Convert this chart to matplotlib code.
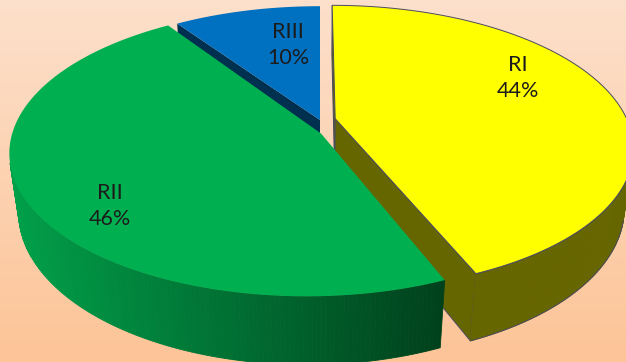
import numpy as np
import matplotlib.pyplot as plt
from matplotlib.patches import Polygon
from matplotlib.colors import to_rgb

labels = ['RI', 'RII', 'RIII']
shares = [44, 46, 10]
top_colors = ['#ffff00', '#00b050', '#0070c0']
side_light = ['#666600', '#00a04a', '#003050']
side_dark = ['#666600', '#00401c', '#003050']
edge_colors = ['#4a4a60', 'none', 'none']
explode = [0.053, 0.04, 0.0]
# extra shift of each slice's tip (world units), excel draws the tips a bit low
tip_shift = [(0.0, -0.037), (0.0385, -0.114), (0.0, -0.037)]
label_xy = [(518, 78), (110, 206), (288, 45)]

# camera looking down on the disc (perspective)
tilt = np.radians(27.7)
dist = 3.72
focal = 1078.0
depth = 0.23
cx, cy = 320, 115
W, H = 626, 362


def proj(xw, yw, z):
    xw = np.atleast_1d(xw).astype(float)
    yw = np.atleast_1d(yw).astype(float)
    z = np.broadcast_to(z, xw.shape)
    d = dist + yw * np.cos(tilt) - z * np.sin(tilt)
    X = cx + focal * xw / d
    Y = cy - focal * (yw * np.sin(tilt) + z * np.cos(tilt)) / d
    return np.column_stack([X, Y])


def lerp_color(c1, c2, t):
    a, b = np.array(to_rgb(c1)), np.array(to_rgb(c2))
    return tuple(a + (b - a) * np.clip(t, 0, 1))


fig = plt.figure(figsize=(W / 100, H / 100), dpi=100)
ax = fig.add_axes([0, 0, 1, 1])
ax.set_xlim(0, W)
ax.set_ylim(H, 0)
ax.axis('off')

# background gradient
grad = np.linspace(0, 1, 256)
bg = np.array([lerp_color('#fde0cb', '#fcc497', g) for g in grad])[:, None, :]
ax.imshow(bg, extent=[0, W, H, 0], aspect='auto', zorder=0)

fracs = np.array(shares) / np.sum(shares)
ends = np.cumsum(fracs) * 2 * np.pi
starts = ends - fracs * 2 * np.pi
mids = (starts + ends) / 2
cam_y = -dist * np.cos(tilt)

order = np.argsort(-np.cos(mids))  # far slices first
zo = 1
for i in order:
    t0, t1 = starts[i], ends[i]
    ox, oy = explode[i] * np.sin(mids[i]), explode[i] * np.cos(mids[i])
    px, py = ox + tip_shift[i][0], oy + tip_shift[i][1]
    ec = edge_colors[i]
    lw = 0.7 if ec != 'none' else 0

    # cut faces
    for t, sgn in ((t0, -1), (t1, 1)):
        n = np.array([sgn * np.cos(t), -sgn * np.sin(t)])
        if n[0] * (-ox) + n[1] * (cam_y - oy) > 0:
            xs = [px, ox + np.sin(t), ox + np.sin(t), px]
            ys = [py, oy + np.cos(t), oy + np.cos(t), py]
            zs = np.array([0, 0, -depth, -depth])
            pts = proj(xs, ys, zs)
            ax.add_patch(Polygon(pts, closed=True, fc=side_dark[i], ec=ec, lw=lw, zorder=zo))
            zo += 1

    # outer side, strip by strip
    th = np.linspace(t0, t1, 240)
    vis = -1 - np.sin(th) * ox - np.cos(th) * (-cam_y + oy) > 0
    for a, b, v in zip(th[:-1], th[1:], vis[:-1]):
        if not v:
            continue
        xs = ox + np.sin([a, b, b, a])
        ys = oy + np.cos([a, b, b, a])
        pts = proj(xs, ys, np.array([0, 0, -depth, -depth]))
        tc = (pts[:, 0].mean() - 12) / (445 - 12)
        col = lerp_color(side_light[i], side_dark[i], tc)
        ax.add_patch(Polygon(pts, closed=True, fc=col, ec=col, lw=0.6, zorder=zo))
    if ec != 'none' and vis.any():
        tv = th[vis]
        for z in (0, -depth):
            p = proj(ox + np.sin(tv), oy + np.cos(tv), z)
            ax.plot(p[:, 0], p[:, 1], color=ec, lw=lw, zorder=zo + 0.5)
    zo += 1

    # top face
    xs = np.concatenate([[px], ox + np.sin(th)])
    ys = np.concatenate([[py], oy + np.cos(th)])
    pts = proj(xs, ys, 0.0)
    ax.add_patch(Polygon(pts, closed=True, fc=top_colors[i], ec=ec, lw=lw, zorder=zo))
    zo += 1

for lab, s, (x, y) in zip(labels, shares, label_xy):
    ax.text(x, y, f'{lab}\n{s}%', ha='center', va='center', fontsize=15.5,
            family='Lato', color='#1c1c1c', linespacing=1.35, zorder=zo)

fig.savefig('out.png', dpi=100)
